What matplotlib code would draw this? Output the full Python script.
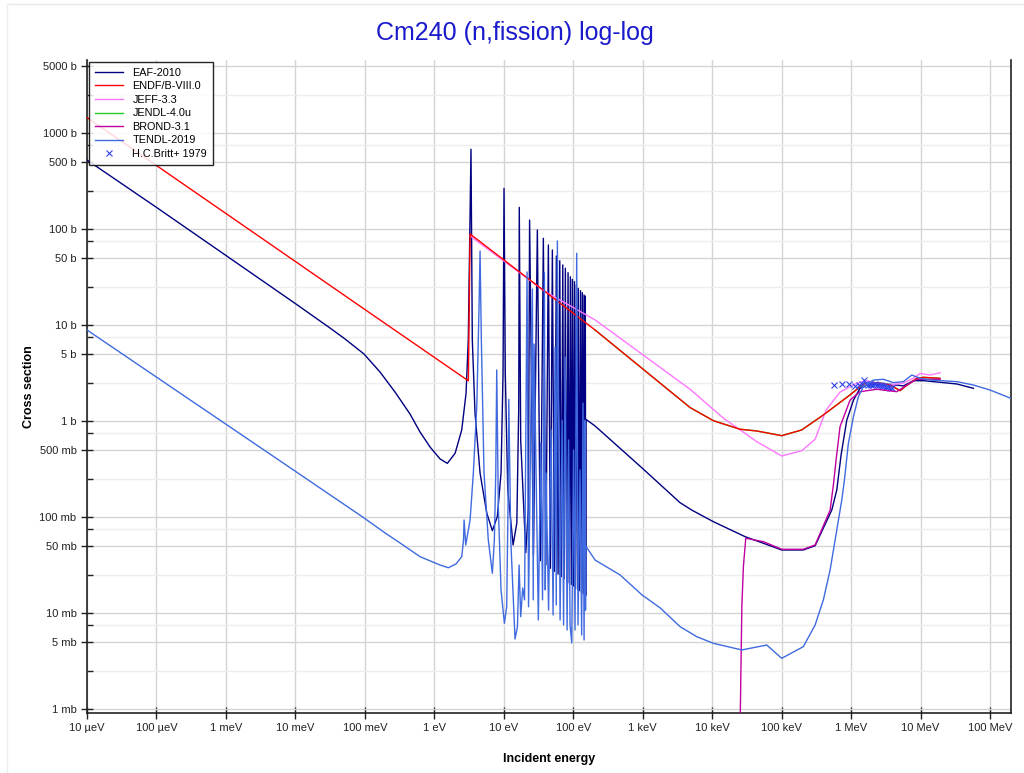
import numpy as np
import matplotlib
matplotlib.use('Agg')
import matplotlib.pyplot as plt
from matplotlib.ticker import FixedLocator, FixedFormatter, NullFormatter
from matplotlib.lines import Line2D

plt.rcParams['font.family'] = ['Liberation Sans', 'DejaVu Sans']

# ---------------- data (energy in eV, cross section in barn) ----------------
eaf_E = [1e-5, 1e-4, 1e-3, 0.01, 0.0315, 0.0518, 0.097, 0.165, 0.272, 0.447, 0.622, 0.867,
         1.21, 1.54, 1.99, 2.48, 2.86, 3.08, 3.37, 3.52, 3.85, 4.55, 5.68, 6.84, 8.07, 9.12, 9.75,
         10.07, 10.5, 11.4, 13.6, 15.4, 16.4, 16.7, 17.5, 20.7, 22.6, 23.5,
         26.7, 30.4, 33.6, 37.1, 40.3, 43.8, 46.8, 50.0, 53.4, 57.1, 60.4, 63.9, 67.1,
         70.6, 73.6, 76.9, 80.5, 84.1, 87.5, 90.8, 93.8, 97.0, 100, 104, 107, 111, 115,
         118, 122, 127, 131, 135, 139, 143, 146, 149, 151, 152,
         206, 977, 3440, 5080, 1.04e4, 2.97e4, 5.46e4, 1.0e5, 2.05e5, 3.03e5, 5.26e5,
         6.21e5, 7.16e5, 8.65e5, 1.08e6, 1.34e6, 1.68e6, 3.64e6, 5.65e6, 7.87e6, 1.1e7,
         3.32e7, 5.75e7]
eaf_S = [523, 168, 53, 16.7, 9.3, 7.15, 4.99, 3.24, 2.0, 1.18, 0.768, 0.536,
         0.402, 0.362, 0.461, 0.806, 1.94, 6.98, 676, 6.98, 1.21, 0.287, 0.110, 0.072, 0.101, 0.287, 3.16,
         265, 3.16, 0.191, 0.0511, 0.0866, 1.40, 168, 0.634, 0.0425, 0.127, 124,
         0.0402, 97.7, 0.0351, 80.0, 0.0318, 68.1, 0.0292, 60.4, 0.0271, 52.3, 0.0254, 46.7, 0.0239,
         42.2, 0.0227, 39.0, 0.0216, 35.1, 0.0206, 31.8, 0.0198, 29.9, 0.0191, 28.3, 0.0184, 26.1, 0.0177,
         24.1, 0.0171, 22.8, 0.0165, 21.7, 0.0159, 20.5, 0.0155, 20.0, 0.0152, 1.04,
         0.887, 0.324, 0.141, 0.118, 0.0893, 0.0624, 0.0532, 0.0453, 0.0453, 0.0502, 0.118,
         0.191, 0.442, 1.02, 1.65, 2.19, 2.37, 2.41, 2.32, 2.63, 2.63,
         2.43, 2.19]

endf_E = [1e-5, 1e-3, 0.1, 3.09, 3.27, 206, 4800, 1.04e4, 2.52e4, 4.38e4, 1.0e5, 1.94e5,
          3.98e5, 9.64e5, 1.5e6, 2.34e6, 3.64e6, 5.07e6, 5.98e6, 8.8e6, 1.1e7, 1.9e7]
endf_S = [1450, 145, 14.5, 2.62, 88.7, 8.87, 1.38, 1.007, 0.82, 0.787, 0.703, 0.806,
          1.155, 1.87, 2.43, 2.51, 2.37, 2.07, 2.28, 2.78, 2.85, 2.78]

jeff_E = [3.27, 39.3, 206, 4800, 1.45e4, 4.38e4, 1.0e5, 1.94e5, 3.03e5, 4.36e5, 6.92e5,
          1.2e6, 1.68e6, 3.26e6, 5.58e6, 7.87e6, 9.84e6, 1.37e7, 1.91e7]
jeff_S = [84.6, 22.3, 11.3, 2.14, 1.07, 0.609, 0.432, 0.49, 0.645, 1.30, 2.0,
          2.47, 2.63, 2.37, 2.47, 2.79, 3.13, 3.01, 3.18]

jendl_E = [206, 4800, 1.04e4, 2.52e4, 4.38e4, 1.0e5, 1.94e5, 3.98e5, 9.64e5, 1.5e6,
           2.34e6, 3.64e6, 5.07e6, 5.98e6, 8.8e6, 1.1e7, 1.9e7]
jendl_S = [8.87, 1.38, 1.007, 0.82, 0.787, 0.703, 0.806, 1.155, 1.87, 2.43,
           2.51, 2.37, 2.07, 2.28, 2.78, 2.85, 2.78]

brond_E = [2.48e4, 2.67e4, 2.81e4, 3.04e4, 5.46e4, 1.0e5, 2.05e5, 3.03e5, 4.98e5, 5.55e5,
           6.07e5, 6.92e5, 9.64e5, 1.34e6, 2.34e6, 4.54e6, 6.33e6, 8.8e6, 1.9e7]
brond_S = [2.9e-4, 0.0116, 0.0304, 0.060, 0.0553, 0.0461, 0.0461, 0.0511, 0.118, 0.216,
           0.393, 0.873, 1.65, 2.02, 2.14, 2.02, 2.37, 2.72, 2.72]

tendl_E = [1e-5, 0.00987, 0.0973, 0.195, 0.321, 0.622, 1.21, 1.59, 2.05, 2.48, 2.63, 2.68, 2.83,
           3.27, 3.64, 4.08, 4.40, 4.55, 4.75, 5.19, 5.98, 6.84, 7.31, 7.66, 7.91, 8.34,
           9.12, 10.2, 11.0, 11.5, 11.8, 12.6, 14.5, 15.7, 16.6, 17.5, 18.7, 19.9, 21.6,
           22.7, 25.8, 26.5, 27.3, 31.4, 34.0, 36.1, 38.4, 39.5, 40.6, 44.1, 47.9, 51.2,
           54.7, 56.9, 59.0, 64.6, 69.0, 72.5, 76.2, 81.5, 85.6, 89.9, 95.1, 101, 106,
           112, 117, 125, 132, 138, 143, 148, 150, 151,
           206, 472, 978, 1780, 3450, 6000, 1.04e4, 2.67e4, 6.11e4, 1.0e5, 2.05e5,
           3.03e5, 3.98e5, 4.98e5, 6.21e5, 7.33e5, 8.0e5, 9.12e5, 1.08e6, 1.27e6, 1.50e6,
           2.09e6, 2.91e6, 4.06e6, 5.65e6, 7.46e6, 9.82e6, 1.37e7, 3.32e7, 5.75e7,
           1.0e8, 2.0e8]
tendl_S = [8.87, 0.301, 0.0977, 0.0682, 0.0536, 0.0386, 0.0316, 0.0296, 0.0324, 0.0386, 0.0576, 0.0931, 0.0511,
           0.0931, 0.285, 1.41, 15.5, 59.0, 6.98, 0.287, 0.0576, 0.0259, 0.0576, 0.287, 3.40, 0.127,
           0.0174, 0.00781, 0.0116, 0.127, 1.68, 0.0576, 0.00536, 0.0072, 0.0316, 0.00915, 0.0182, 0.0137, 35.7,
           0.0116, 23.7, 0.0137, 6.34, 0.00845, 0.590, 0.0137, 35.1, 0.0174, 0.287, 0.0107, 0.806, 0.00953,
           5.90, 0.0121, 75.0, 0.00845, 1.02, 0.0075, 4.64, 0.00665, 0.634, 0.0075, 0.00487, 0.499, 0.00665,
           55.8, 0.0075, 0.309, 0.0059, 1.54, 0.00523, 1.02, 0.0107, 0.0499,
           0.0356, 0.0249, 0.0154, 0.0113, 0.0072, 0.00566, 0.00483, 0.00412, 0.00464, 0.00337, 0.00446,
           0.0075, 0.0137, 0.0281, 0.0732, 0.150, 0.243, 0.586, 1.11, 1.79, 2.28,
           2.67, 2.72, 2.51, 2.57, 3.01, 2.79, 2.67, 2.57, 2.37,
           2.10, 1.72]

britt_E = [5.68e5, 7.48e5, 9.44e5, 1.14e6, 1.30e6, 1.45e6, 1.55e6, 1.65e6, 1.75e6, 1.85e6,
           1.95e6, 2.05e6, 2.2e6, 2.35e6, 2.5e6, 2.65e6, 2.8e6, 3.0e6, 3.2e6, 3.4e6, 3.6e6, 3.9e6]
britt_S = [2.37, 2.41, 2.43, 2.31, 2.36, 2.45, 2.67, 2.42, 2.38, 2.40,
           2.36, 2.39, 2.41, 2.37, 2.35, 2.38, 2.33, 2.31, 2.28, 2.25, 2.22, 2.18]

x_ticks = [1e-5, 1e-4, 1e-3, 1e-2, 1e-1, 1, 10, 100, 1e3, 1e4, 1e5, 1e6, 1e7, 1e8]
x_labels = ['10 µeV', '100 µeV', '1 meV', '10 meV', '100 meV', '1 eV', '10 eV', '100 eV',
            '1 keV', '10 keV', '100 keV', '1 MeV', '10 MeV', '100 MeV']
y_ticks = [1e-3, 5e-3, 1e-2, 5e-2, 0.1, 0.5, 1, 5, 10, 50, 100, 500, 1000, 5000]
y_labels = ['1 mb', '5 mb', '10 mb', '50 mb', '100 mb', '500 mb', '1 b', '5 b', '10 b',
            '50 b', '100 b', '500 b', '1000 b', '5000 b']
y_minor = [2.5e-3, 7.5e-3, 2.5e-2, 7.5e-2, 0.25, 0.75, 2.5, 7.5, 25, 75, 250, 750, 2500]

# ---------------- figure ----------------
W, H = 1024, 773
fig = plt.figure(figsize=(W / 100, H / 100), dpi=100)

# faint outer frame of the picture
fig.add_artist(Line2D([7 / W, 1.0], [1 - 4 / H, 1 - 4 / H], color='#e8e8e8', lw=1.0,
                      transform=fig.transFigure))
fig.add_artist(Line2D([7 / W, 7 / W], [0.0, 1 - 4 / H], color='#eeeeee', lw=1.0,
                      transform=fig.transFigure))

L, R, T, B = 87, 1011, 60, 713
ax = fig.add_axes([L / W, 1 - B / H, (R - L) / W, (B - T) / H])
ax.set_xscale('log')
ax.set_yscale('log')

lw = 1.0
ax.plot(eaf_E, eaf_S, color='#000080', lw=lw, label='EAF-2010', zorder=3)
ax.plot(jendl_E, jendl_S, color='#22cc22', lw=lw, zorder=3.5)
ax.plot(endf_E, endf_S, color='#ff0000', lw=lw, label='ENDF/B-VIII.0', zorder=4)
ax.plot(jeff_E, jeff_S, color='#ff77ff', lw=lw, label='JEFF-3.3', zorder=3.8)
ax.plot([], [], color='#22cc22', lw=lw, label='JENDL-4.0u')
ax.plot(brond_E, brond_S, color='#c000a0', lw=lw, label='BROND-3.1', zorder=4.2)
ax.plot(tendl_E, tendl_S, color='#3f6ae0', lw=lw, label='TENDL-2019', zorder=4.4)
ax.plot(britt_E, britt_S, ls='none', marker='x', ms=4, mew=0.8, color='#3344ee',
        label='H.C.Britt+ 1979', zorder=4.1)

ax.set_xlim(1e-5, 2.0e8)
ax.set_ylim(9.08e-4, 5760)

ax.xaxis.set_major_locator(FixedLocator(x_ticks))
ax.xaxis.set_major_formatter(FixedFormatter(x_labels))
ax.xaxis.set_minor_locator(FixedLocator([]))
ax.yaxis.set_major_locator(FixedLocator(y_ticks))
ax.yaxis.set_major_formatter(FixedFormatter(y_labels))
ax.yaxis.set_minor_locator(FixedLocator(y_minor))
ax.yaxis.set_minor_formatter(NullFormatter())

ax.tick_params(which='major', direction='inout', length=8, width=1.0, labelsize=8, colors='#222222')
ax.tick_params(which='minor', direction='in', length=4, width=1.0, colors='#222222')

ax.set_axisbelow(True)
ax.grid(which='major', axis='both', color='#d4d4d4', lw=1.0)
ax.grid(which='minor', axis='y', color='#eeeeee', lw=1.0)

for s in ['left', 'bottom', 'right']:
    ax.spines[s].set_color('#222222')
    ax.spines[s].set_linewidth(1.2)
ax.spines['top'].set_visible(False)

ax.set_xlabel('Incident energy', fontsize=9, fontweight='bold', labelpad=14)
ax.set_ylabel('Cross section', fontsize=9, fontweight='bold', labelpad=3)

fig.text(0.503, 0.957, 'Cm240 (n,fission) log-log', color='#1a1acc', fontsize=18,
         ha='center', va='center')

leg = ax.legend(loc='upper left', fontsize=7.8, frameon=True, fancybox=False,
                framealpha=0.85, edgecolor='black', borderaxespad=0.15,
                handlelength=2.6, handletextpad=0.9, labelspacing=0.33, borderpad=0.55)
leg.get_frame().set_linewidth(1.0)

fig.savefig('out.png', dpi=100, facecolor='white')
